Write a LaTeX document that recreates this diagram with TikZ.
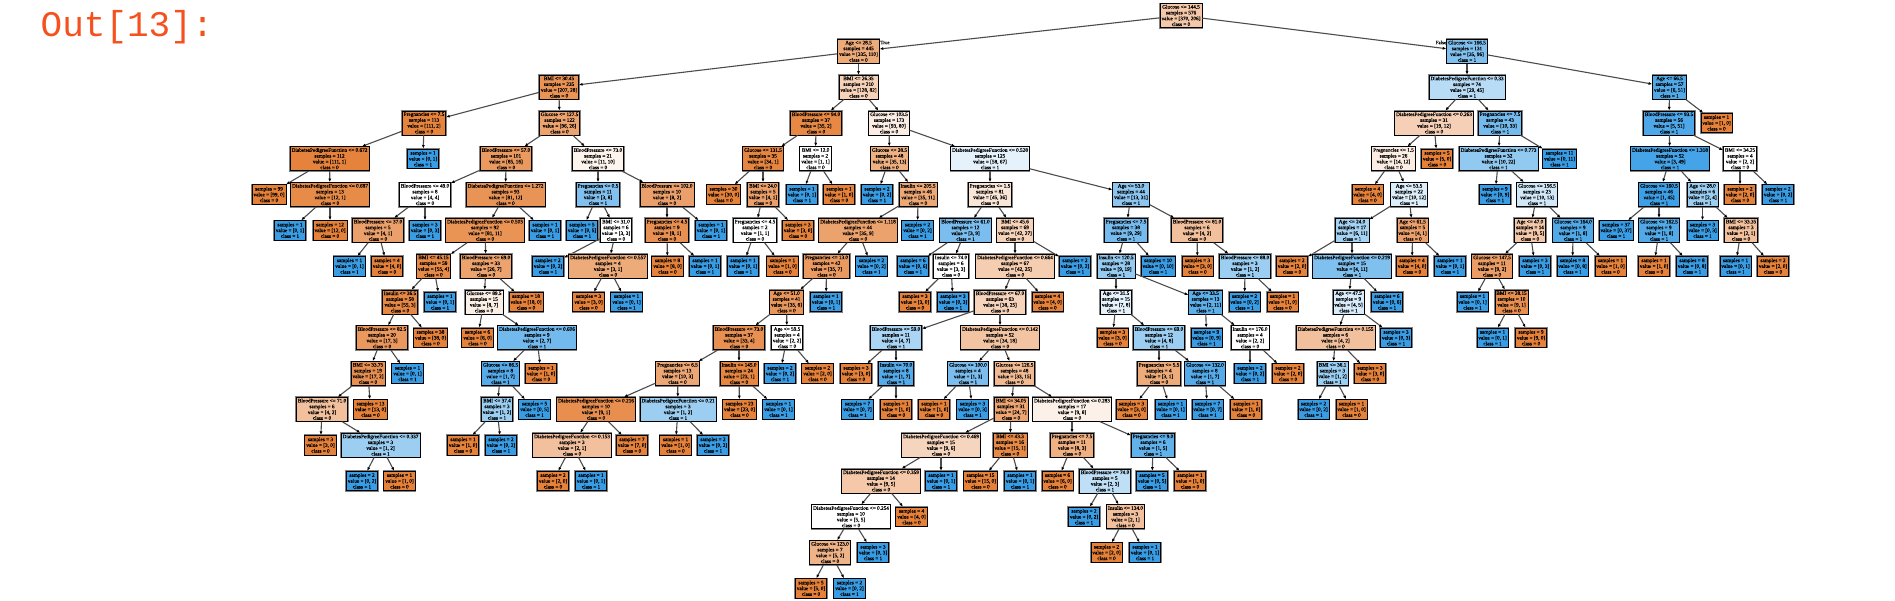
\documentclass[tikz,border=0pt]{standalone}
\usepackage{fontspec}
\usetikzlibrary{arrows.meta}
\newfontfamily\treefont[FakeBold=0.5]{Liberation Serif}
\newfontfamily\outfont{Liberation Mono}
\definecolor{corange}{HTML}{E58139}
\definecolor{cblue}{HTML}{399DE5}
\definecolor{outred}{HTML}{F4511E}
\tikzset{
  fillv/.code 2 args={%
    \ifnum#1<#2\relax
      \edef\tmpc{cblue!\the\numexpr100*(#2-#1)/#2\relax!white}%
    \else
      \edef\tmpc{corange!\the\numexpr100*(#1-#2)/#1\relax!white}%
    \fi
    \pgfkeysalso{fill/.expanded=\tmpc}},
  tbox/.style={draw=black, line width=0.7pt,
    preaction={draw=black!50, line width=2pt},
    align=center, inner xsep=1.5pt, inner ysep=1.2pt,
    font=\treefont\fontsize{5.25}{5.8}\selectfont, minimum height=24pt},
  leafbox/.style={minimum height=19.5pt},
  conn/.style={draw=black!70, line width=1.1pt,
    -{Latex[length=3.6pt,width=3pt,color=black]}},
  tflabel/.style={font=\treefont\fontsize{5}{5}\selectfont, inner sep=0.5pt}
}
\newcommand\mkint[6]{\node[tbox,fillv={#5}{#6}] (#1) at (#2,{15.5+35.8*#3}) {#4\\samples = \the\numexpr#5+#6\relax\\value = [#5, #6]\\class = \ifnum#5<#6\relax 1\else 0\fi};}
\newcommand\TreeN[7]{\mkint{#1}{#3}{#4}{#5}{#6}{#7}\draw[conn] (#2) -- (#1);}
\newcommand\TreeL[6]{\node[tbox,leafbox,fillv={#5}{#6}] (#1) at (#3,{15.5+35.8*#4}) {samples = \the\numexpr#5+#6\relax\\value = [#5, #6]\\class = \ifnum#5<#6\relax 1\else 0\fi};\draw[conn] (#2) -- (#1);}
\begin{document}
\begin{tikzpicture}[x=1pt,y=-1pt]
\fill[white] (0,0) rectangle (1895,600);
\useasboundingbox (0,0) rectangle (1895,600);
\node[anchor=base west, inner sep=0, font=\outfont\fontsize{36}{36}\selectfont, text=outred] (out) at (40.5,36.7) {Out[13]:};
% root
\mkint{r}{1181}{0}{Glucose <= 144.5}{370}{206}
\TreeN{A}{r}{858.5}{1}{Age <= 28.5}{335}{110}
\TreeN{B}{r}{1467}{1}{Glucose <= 166.5}{35}{96}
\node[tflabel] (tlab) at (885,42.5) {True};
\node[tflabel] (flab) at (1441,42.5) {False};
% left-left
\TreeN{A1}{A}{559}{2}{BMI <= 30.45}{207}{28}
\TreeN{A2}{A}{858.5}{2}{BMI <= 26.35}{128}{82}
\TreeN{A11}{A1}{424}{3}{Pregnancies <= 7.5}{111}{2}
\TreeN{A12}{A1}{559.5}{3}{Glucose <= 127.5}{96}{26}
\TreeN{A111}{A11}{329.5}{4}{DiabetesPedigreeFunction <= 0.672}{111}{1}
\TreeL{L1}{A11}{423}{4}{0}{1}
\TreeL{L2}{A111}{269}{5}{99}{0}
\TreeN{A1112}{A111}{330}{5}{DiabetesPedigreeFunction <= 0.687}{12}{1}
\TreeL{L3}{A1112}{290}{6}{0}{1}
\TreeL{L4}{A1112}{330}{6}{12}{0}
\TreeN{A121}{A12}{506}{4}{BloodPressure <= 57.0}{85}{16}
\TreeN{A122}{A12}{598}{4}{BloodPressure <= 73.0}{11}{10}
\TreeN{A1211}{A121}{425}{5}{BloodPressure <= 49.0}{4}{4}
\TreeN{A1212}{A121}{505.5}{5}{DiabetesPedigreeFunction <= 1.272}{81}{12}
\TreeN{c1}{A1211}{378}{6}{BloodPressure <= 37.0}{4}{1}
\TreeL{L5}{A1211}{425}{6}{0}{3}
\TreeL{L6}{c1}{349.5}{7}{0}{1}
\TreeL{L7}{c1}{387}{7}{4}{0}
\TreeN{c2}{A1212}{485}{6}{DiabetesPedigreeFunction <= 0.503}{81}{11}
\TreeL{L8}{A1212}{545}{6}{0}{1}
\TreeN{c21}{c2}{433.5}{7}{BMI <= 45.15}{55}{4}
\TreeN{c22}{c2}{486}{7}{BloodPressure <= 69.0}{26}{7}
\TreeN{c211}{c21}{400}{8}{Insulin <= 36.5}{55}{3}
\TreeL{L9}{c21}{440}{8}{0}{1}
\TreeN{c2111}{c211}{382}{9}{BloodPressure <= 82.5}{17}{3}
\TreeL{L10}{c211}{430.5}{9}{38}{0}
\TreeN{c21111}{c2111}{368}{10}{BMI <= 33.75}{17}{2}
\TreeL{L11}{c2111}{407.5}{10}{0}{1}
\TreeN{c3}{c21111}{322}{11}{BloodPressure <= 71.0}{4}{2}
\TreeL{L12}{c21111}{370.5}{11}{13}{0}
\TreeL{L13}{c3}{320.5}{12}{3}{0}
\TreeN{c31}{c3}{380.5}{12}{DiabetesPedigreeFunction <= 0.337}{1}{2}
\TreeL{L14}{c31}{362}{13}{0}{2}
\TreeL{L15}{c31}{399.5}{13}{1}{0}
\TreeN{c221}{c22}{484}{8}{Glucose <= 89.5}{8}{7}
\TreeL{L16}{c22}{526}{8}{18}{0}
\TreeL{L17}{c221}{477.5}{9}{6}{0}
\TreeN{c2212}{c221}{537}{9}{DiabetesPedigreeFunction <= 0.606}{2}{7}
\TreeN{c4}{c2212}{500.5}{10}{Glucose <= 86.5}{1}{7}
\TreeL{L18}{c2212}{541}{10}{1}{0}
\TreeN{c41}{c4}{497}{11}{BMI <= 37.4}{1}{2}
\TreeL{L19}{c4}{534.5}{11}{0}{5}
\TreeL{L20}{c41}{463}{12}{1}{0}
\TreeL{L21}{c41}{501}{12}{0}{2}
\TreeN{d1}{A122}{598}{5}{Pregnancies <= 0.5}{3}{8}
\TreeN{d2}{A122}{667}{5}{BloodPressure <= 102.0}{8}{2}
\TreeL{L22}{d1}{582}{6}{0}{5}
\TreeN{d12}{d1}{616}{6}{BMI <= 31.0}{3}{3}
\TreeL{L23}{d12}{548}{7}{0}{2}
\TreeN{d122}{d12}{608}{7}{DiabetesPedigreeFunction <= 0.557}{3}{1}
\TreeL{L24}{d122}{588.5}{8}{3}{0}
\TreeL{L25}{d122}{626.5}{8}{0}{1}
\TreeN{d21}{d2}{667}{6}{Pregnancies <= 4.5}{8}{1}
\TreeL{L26}{d2}{711}{6}{0}{1}
\TreeL{L27}{d21}{667.5}{7}{8}{0}
\TreeL{L28}{d21}{705}{7}{0}{1}
% left-right
\TreeN{e1}{A2}{816}{3}{BloodPressure <= 94.0}{35}{2}
\TreeN{e2}{A2}{889}{3}{Glucose <= 103.5}{93}{80}
\TreeN{e11}{e1}{763}{4}{Glucose <= 131.5}{34}{1}
\TreeN{e12}{e1}{815.5}{4}{BMI <= 12.0}{1}{1}
\TreeL{L29}{e11}{723.5}{5}{30}{0}
\TreeN{e112}{e11}{763}{5}{BMI <= 24.0}{4}{1}
\TreeN{e1121}{e112}{755}{6}{Pregnancies <= 4.5}{1}{1}
\TreeL{L30}{e112}{798}{6}{3}{0}
\TreeL{L31}{e1121}{743}{7}{0}{1}
\TreeL{L32}{e1121}{782.5}{7}{1}{0}
\TreeL{L33}{e12}{802}{5}{0}{1}
\TreeL{L34}{e12}{839}{5}{1}{0}
\TreeN{e21}{e2}{889.5}{4}{Glucose <= 28.5}{35}{13}
\TreeN{e22}{e2}{990}{4}{DiabetesPedigreeFunction <= 0.528}{58}{67}
\TreeL{L35}{e21}{877}{5}{0}{2}
\TreeN{e212}{e21}{918}{5}{Insulin <= 205.5}{35}{11}
\TreeN{e2121}{e212}{858}{6}{DiabetesPedigreeFunction <= 1.118}{35}{9}
\TreeL{L36}{e212}{917.5}{6}{0}{2}
\TreeN{e21211}{e2121}{826.5}{7}{Pregnancies <= 13.0}{35}{7}
\TreeL{L37}{e2121}{871.5}{7}{0}{2}
\TreeN{f1}{e21211}{786.5}{8}{Age <= 51.0}{35}{6}
\TreeL{L38}{e21211}{826}{8}{0}{1}
\TreeN{f11}{f1}{739}{9}{BloodPressure <= 73.0}{33}{4}
\TreeN{f12}{f1}{787}{9}{Age <= 59.5}{2}{2}
\TreeN{f111}{f11}{677.5}{10}{Pregnancies <= 6.5}{10}{3}
\TreeN{f112}{f11}{739}{10}{Insulin <= 145.0}{23}{1}
\TreeN{f1111}{f111}{596}{11}{DiabetesPedigreeFunction <= 0.216}{9}{1}
\TreeN{f1112}{f111}{678}{11}{DiabetesPedigreeFunction <= 0.21}{1}{2}
\TreeN{f11111}{f1111}{572}{12}{DiabetesPedigreeFunction <= 0.153}{2}{1}
\TreeL{L39}{f1111}{632}{12}{7}{0}
\TreeL{L40}{f11111}{553}{13}{2}{0}
\TreeL{L41}{f11111}{591}{13}{0}{1}
\TreeL{L42}{f1112}{675.5}{12}{1}{0}
\TreeL{L43}{f1112}{713}{12}{0}{2}
\TreeL{L44}{f112}{739.5}{11}{23}{0}
\TreeL{L45}{f112}{778.5}{11}{0}{1}
\TreeL{L46}{f12}{780}{10}{0}{2}
\TreeL{L47}{f12}{817.5}{10}{2}{0}
\TreeN{g1}{e22}{990}{5}{Pregnancies <= 1.5}{45}{36}
\TreeN{g2}{e22}{1131}{5}{Age <= 53.0}{13}{31}
\TreeN{g11}{g1}{965.5}{6}{BloodPressure <= 61.0}{3}{9}
\TreeN{g12}{g1}{1015}{6}{BMI <= 45.6}{42}{27}
\TreeL{L48}{g11}{913}{7}{0}{6}
\TreeN{g112}{g11}{951}{7}{Insulin <= 74.0}{3}{3}
\TreeL{L49}{g112}{915}{8}{3}{0}
\TreeL{L50}{g112}{953}{8}{0}{3}
\TreeN{g121}{g12}{1015}{7}{DiabetesPedigreeFunction <= 0.664}{42}{25}
\TreeL{L51}{g12}{1075}{7}{0}{2}
\TreeN{g1211}{g121}{1000}{8}{BloodPressure <= 67.0}{38}{25}
\TreeL{L52}{g121}{1047.5}{8}{4}{0}
\TreeN{h1}{g1211}{896}{9}{BloodPressure <= 59.0}{4}{7}
\TreeN{h2}{g1211}{1000}{9}{DiabetesPedigreeFunction <= 0.142}{34}{18}
\TreeL{L53}{h1}{856}{10}{3}{0}
\TreeN{h12}{h1}{896}{10}{Insulin <= 70.0}{1}{7}
\TreeL{L54}{h12}{857.5}{11}{0}{7}
\TreeL{L55}{h12}{896}{11}{1}{0}
\TreeN{h21}{h2}{968}{10}{Glucose <= 100.0}{1}{3}
\TreeN{h22}{h2}{1014.5}{10}{Glucose <= 126.5}{33}{15}
\TreeL{L56}{h21}{934}{11}{1}{0}
\TreeL{L57}{h21}{972.5}{11}{0}{3}
\TreeN{i1}{h22}{1011}{11}{BMI <= 34.05}{24}{7}
\TreeN{i2}{h22}{1072}{11}{DiabetesPedigreeFunction <= 0.283}{9}{8}
\TreeN{i11}{i1}{941}{12}{DiabetesPedigreeFunction <= 0.469}{9}{6}
\TreeN{i12}{i1}{1010}{12}{BMI <= 43.3}{15}{1}
\TreeN{i111}{i11}{881}{13}{DiabetesPedigreeFunction <= 0.359}{9}{5}
\TreeL{L58}{i11}{941}{13}{0}{1}
\TreeN{i1111}{i111}{851}{14}{DiabetesPedigreeFunction <= 0.254}{5}{5}
\TreeL{L59}{i111}{911.5}{14}{4}{0}
\TreeN{i11111}{i1111}{830}{15}{Glucose <= 123.0}{5}{2}
\TreeL{L60}{i1111}{873}{15}{0}{3}
\TreeL{L61}{i11111}{811}{16}{5}{0}
\TreeL{L62}{i11111}{849.5}{16}{0}{2}
\TreeL{L63}{i12}{980.5}{13}{15}{0}
\TreeL{L64}{i12}{1020}{13}{0}{1}
\TreeN{i21}{i2}{1072}{12}{Pregnancies <= 7.5}{8}{3}
\TreeN{i22}{i2}{1153}{12}{Pregnancies <= 9.0}{1}{5}
\TreeL{L65}{i21}{1057.5}{13}{6}{0}
\TreeN{i212}{i21}{1105}{13}{BloodPressure <= 74.0}{2}{3}
\TreeL{L66}{i212}{1084}{14}{0}{2}
\TreeN{i2122}{i212}{1125.5}{14}{Insulin <= 134.0}{2}{1}
\TreeL{L67}{i2122}{1106.5}{15}{2}{0}
\TreeL{L68}{i2122}{1145}{15}{0}{1}
\TreeL{L69}{i22}{1152}{13}{0}{5}
\TreeL{L70}{i22}{1190}{13}{1}{0}
\TreeN{j1}{g2}{1126}{6}{Pregnancies <= 7.5}{9}{29}
\TreeN{j2}{g2}{1197}{6}{BloodPressure <= 81.0}{4}{2}
\TreeN{j11}{j1}{1116}{7}{Insulin <= 120.5}{9}{19}
\TreeL{L71}{j1}{1158}{7}{0}{10}
\TreeN{j111}{j11}{1116}{8}{Age <= 31.5}{7}{8}
\TreeN{j112}{j11}{1205.5}{8}{Age <= 33.5}{2}{11}
\TreeL{L72}{j111}{1112.5}{9}{3}{0}
\TreeN{j1112}{j111}{1159}{9}{BloodPressure <= 69.0}{4}{8}
\TreeN{j11121}{j1112}{1159}{10}{Pregnancies <= 5.5}{3}{1}
\TreeN{j11122}{j1112}{1205}{10}{Glucose <= 132.0}{1}{7}
\TreeL{L73}{j11121}{1131.5}{11}{3}{0}
\TreeL{L74}{j11121}{1170.5}{11}{0}{1}
\TreeL{L75}{j11122}{1207.5}{11}{0}{7}
\TreeL{L76}{j11122}{1246}{11}{1}{0}
\TreeL{L77}{j112}{1206.5}{9}{0}{9}
\TreeN{j1122}{j112}{1250}{9}{Insulin <= 176.0}{2}{2}
\TreeL{L78}{j1122}{1250}{10}{0}{2}
\TreeL{L79}{j1122}{1288}{10}{2}{0}
\TreeL{L80}{j2}{1197.5}{7}{3}{0}
\TreeN{j22}{j2}{1245}{7}{BloodPressure <= 88.0}{1}{2}
\TreeL{L81}{j22}{1244.5}{8}{0}{2}
\TreeL{L82}{j22}{1282.5}{8}{1}{0}
% right
\TreeN{k1}{B}{1467}{2}{DiabetesPedigreeFunction <= 0.33}{29}{45}
\TreeN{k2}{B}{1669.5}{2}{Age <= 66.5}{6}{51}
\TreeN{k11}{k1}{1434}{3}{DiabetesPedigreeFunction <= 0.263}{19}{12}
\TreeN{k12}{k1}{1500}{3}{Pregnancies <= 7.5}{10}{33}
\TreeN{k111}{k11}{1393.5}{4}{Pregnancies <= 1.5}{14}{12}
\TreeL{L83}{k11}{1437}{4}{5}{0}
\TreeL{L84}{k111}{1367.5}{5}{4}{0}
\TreeN{k1112}{k111}{1409}{5}{Age <= 53.5}{10}{12}
\TreeN{k11121}{k1112}{1352}{6}{Age <= 24.0}{6}{11}
\TreeN{k11122}{k1112}{1412.5}{6}{Age <= 61.5}{4}{1}
\TreeL{L85}{k11121}{1292}{7}{2}{0}
\TreeN{k111212}{k11121}{1352}{7}{DiabetesPedigreeFunction <= 0.219}{4}{11}
\TreeN{m1}{k111212}{1348.5}{8}{Age <= 47.5}{4}{5}
\TreeL{L86}{k111212}{1387}{8}{0}{6}
\TreeN{m11}{m1}{1335.5}{9}{DiabetesPedigreeFunction <= 0.155}{4}{2}
\TreeL{L87}{m1}{1396}{9}{0}{3}
\TreeN{m111}{m11}{1332.5}{10}{BMI <= 36.1}{1}{2}
\TreeL{L88}{m11}{1370}{10}{3}{0}
\TreeL{L89}{m111}{1313.5}{11}{0}{2}
\TreeL{L90}{m111}{1351.5}{11}{1}{0}
\TreeL{L91}{k11122}{1412}{7}{4}{0}
\TreeL{L92}{k11122}{1450}{7}{0}{1}
\TreeN{k121}{k12}{1498.5}{4}{DiabetesPedigreeFunction <= 0.773}{10}{22}
\TreeL{L93}{k12}{1559.5}{4}{0}{11}
\TreeL{L94}{k121}{1495}{5}{0}{9}
\TreeN{k1212}{k121}{1537}{5}{Glucose <= 156.5}{10}{13}
\TreeN{n1}{k1212}{1530}{6}{Age <= 47.0}{9}{5}
\TreeN{n2}{k1212}{1573}{6}{Glucose <= 164.0}{1}{8}
\TreeN{n11}{n1}{1492}{7}{Glucose <= 147.5}{9}{2}
\TreeL{L95}{n1}{1535}{7}{0}{3}
\TreeL{L96}{n11}{1472.5}{8}{0}{1}
\TreeN{n112}{n11}{1511.5}{8}{BMI <= 28.15}{9}{1}
\TreeL{L97}{n112}{1492.5}{9}{0}{1}
\TreeL{L98}{n112}{1531}{9}{9}{0}
\TreeL{L99}{n2}{1572.5}{7}{0}{8}
\TreeL{L100}{n2}{1610.5}{7}{1}{0}
\TreeN{k21}{k2}{1669}{3}{BloodPressure <= 93.5}{5}{51}
\TreeL{L101}{k2}{1716.5}{3}{1}{0}
\TreeN{k211}{k21}{1670}{4}{DiabetesPedigreeFunction <= 1.318}{3}{49}
\TreeN{k212}{k21}{1740}{4}{BMI <= 34.25}{2}{2}
\TreeN{k2111}{k211}{1659}{5}{Glucose <= 160.5}{1}{45}
\TreeN{k2112}{k211}{1702.5}{5}{Age <= 28.0}{2}{4}
\TreeL{L102}{k2111}{1616}{6}{0}{37}
\TreeN{k21112}{k2111}{1659}{6}{Glucose <= 162.5}{1}{8}
\TreeL{L103}{k21112}{1654}{7}{1}{0}
\TreeL{L104}{k21112}{1692}{7}{0}{8}
\TreeL{L105}{k2112}{1702.5}{6}{0}{3}
\TreeN{k21122}{k2112}{1741}{6}{BMI <= 33.35}{2}{1}
\TreeL{L106}{k21122}{1735.5}{7}{0}{1}
\TreeL{L107}{k21122}{1773}{7}{2}{0}
\TreeL{L108}{k212}{1740}{5}{2}{0}
\TreeL{L109}{k212}{1778}{5}{0}{2}
\end{tikzpicture}
\end{document}
